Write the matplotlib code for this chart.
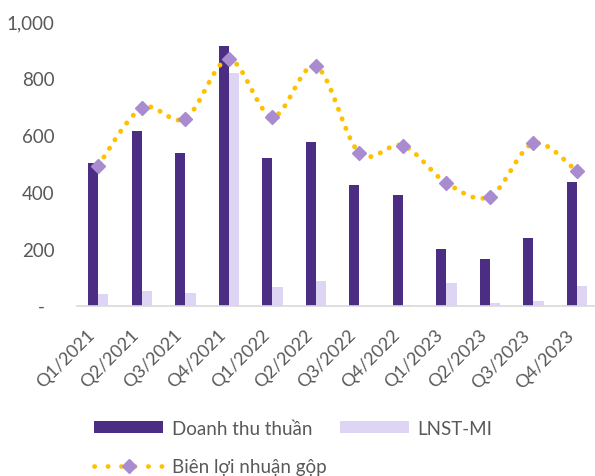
import matplotlib
matplotlib.use("Agg")
import matplotlib.pyplot as plt
import matplotlib.transforms as mtransforms
import numpy as np
from matplotlib.lines import Line2D
from matplotlib.patches import Patch

categories = ["Q1/2021", "Q2/2021", "Q3/2021", "Q4/2021", "Q1/2022", "Q2/2022",
              "Q3/2022", "Q4/2022", "Q1/2023", "Q2/2023", "Q3/2023", "Q4/2023"]
doanh_thu = [500, 615, 536, 912, 518, 574, 423, 390, 197, 162, 236, 433]
lnst_mi = [41, 51, 44, 817, 64, 86, 0, 3, 79, 8, 15, 67]
bien_ln = [492, 694, 657, 865, 664, 841, 536, 562, 431, 383, 570, 472]
yticks = [0, 200, 400, 600, 800, 1000]
ytick_labels = ["-  ", "200", "400", "600", "800", "1,000"]

DARK = "#4B2E83"
LIGHT = "#DED4F4"
DIAMOND = "#A98BD0"
YELLOW = "#FFC000"
TXT = "#595959"

plt.rcParams["font.family"] = ["Lato", "DejaVu Sans"]

fig = plt.figure(figsize=(5.95, 4.77), dpi=100)
ax = fig.add_axes([76.5 / 595, (477 - 306.5) / 477, (598.7 - 76.5) / 595, (306.5 - 22) / 477])

x = np.arange(len(categories))
w = 0.235
ax.bar(x - w / 2, doanh_thu, width=w, color=DARK, zorder=2)
ax.bar(x + w / 2, lnst_mi, width=w, color=LIGHT, zorder=2)


def smooth(xs, ys, n=30):
    xs = np.asarray(xs, float)
    ys = np.asarray(ys, float)
    px = np.concatenate([[xs[0]], xs, [xs[-1]]])
    py = np.concatenate([[ys[0]], ys, [ys[-1]]])
    out_x, out_y = [], []
    t = np.linspace(0, 1, n)
    for i in range(1, len(px) - 2):
        p0 = np.array([px[i], py[i]])
        p3 = np.array([px[i + 1], py[i + 1]])
        p1 = p0 + (np.array([px[i + 1], py[i + 1]]) - np.array([px[i - 1], py[i - 1]])) / 6
        p2 = p3 - (np.array([px[i + 2], py[i + 2]]) - np.array([px[i], py[i]])) / 6
        b = ((1 - t) ** 3)[:, None] * p0 + (3 * (1 - t) ** 2 * t)[:, None] * p1 \
            + (3 * (1 - t) * t ** 2)[:, None] * p2 + (t ** 3)[:, None] * p3
        out_x.extend(b[:, 0] if i == 1 else b[1:, 0])
        out_y.extend(b[:, 1] if i == 1 else b[1:, 1])
    return np.array(out_x), np.array(out_y)


sx, sy = smooth(x, bien_ln)
ax.plot(sx, sy, color=YELLOW, lw=3.5, linestyle=(0, (0.05, 2.05)),
        dash_capstyle="round", solid_capstyle="round", zorder=3)
ax.plot(x, bien_ln, linestyle="none", marker="D", markersize=7.5,
        color=DIAMOND, zorder=4)

ax.set_xlim(-0.5, 11.5)
ax.set_ylim(0, 1000)
ax.set_yticks(yticks)
ax.set_yticklabels(ytick_labels)
ax.set_xticks(x)
ax.set_xticklabels(categories, rotation=45, ha="right", va="top")
offset = mtransforms.ScaledTranslation(3 / 100, 0, fig.dpi_scale_trans)
for lbl in ax.get_xticklabels():
    lbl.set_transform(lbl.get_transform() + offset)

ax.tick_params(axis="y", length=0, pad=16, labelsize=13.5, labelcolor=TXT)
ax.tick_params(axis="x", length=0, pad=15, labelsize=13, labelcolor=TXT)
for s in ["top", "right", "left"]:
    ax.spines[s].set_visible(False)
ax.spines["bottom"].set_color("#D9D9D9")
ax.spines["bottom"].set_linewidth(1.2)

leg_line = Line2D([0], [0], color=YELLOW, lw=3.4, linestyle=(0, (0.05, 2.8)),
                  dash_capstyle="round", marker="D", markersize=7,
                  markerfacecolor=DIAMOND, markeredgecolor=DIAMOND)
handles = [
    Patch(facecolor=DARK, edgecolor="none"),
    leg_line,
    Patch(facecolor=LIGHT, edgecolor="none"),
]
labels = ["Doanh thu thuần", "Biên lợi nhuận gộp", "LNST-MI"]
leg = fig.legend(handles, labels, ncol=2, loc="upper left",
                 bbox_to_anchor=(94 / 595, 1 - 421 / 477), frameon=False,
                 fontsize=13.5, handlelength=3.7, handletextpad=0.45,
                 columnspacing=0.7, labelspacing=1.12, numpoints=1,
                 handleheight=0.6, borderpad=0, borderaxespad=0)
for t in leg.get_texts():
    t.set_color(TXT)

fig.savefig("out.png", dpi=100)
